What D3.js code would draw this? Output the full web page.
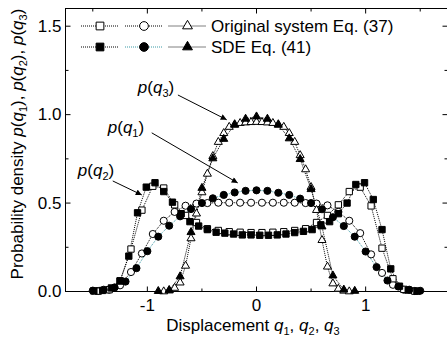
<!DOCTYPE html>
<html>
<head>
<meta charset="utf-8">
<script src="https://cdn.jsdelivr.net/npm/d3@7"></script>
<style>
html, body { margin: 0; padding: 0; background: #fff; }
svg { display: block; font-family: "Liberation Sans", Arial, Helvetica, sans-serif; }
</style>
</head>
<body>
<svg id="chart" width="447" height="342"></svg>
<script>
// ---- Probability densities: original system (open markers) ----
const q1OrigX = [-1.45,-1.35,-1.25,-1.15,-1.05,-0.95,-0.85,-0.75,-0.65,-0.55,-0.45,-0.35,-0.25,-0.15,-0.05,
                 0.05,0.15,0.25,0.35,0.45,0.55,0.65,0.75,0.85,0.95,1.05,1.15,1.25,1.35,1.45];
const q1OrigY = [0.003,0.010,0.035,0.110,0.215,0.325,0.400,0.450,0.485,0.497,0.500,0.502,0.502,0.502,0.502,
                 0.502,0.502,0.502,0.502,0.500,0.497,0.487,0.450,0.400,0.330,0.210,0.105,0.038,0.010,0.003];

const q2OrigX = [-1.45,-1.35,-1.25,-1.15,-1.05,-0.95,-0.85,-0.75,-0.65,-0.55,-0.45,-0.35,-0.25,-0.15,-0.05,
                 0.05,0.15,0.25,0.35,0.45,0.55,0.65,0.75,0.85,0.95,1.05,1.15,1.25,1.35,1.45];
const q2OrigY = [0.002,0.010,0.060,0.240,0.460,0.595,0.585,0.490,0.430,0.390,0.355,0.345,0.338,0.335,0.333,
                 0.333,0.335,0.338,0.345,0.355,0.390,0.430,0.490,0.565,0.590,0.484,0.245,0.072,0.012,0.002];

const q3OrigX = [-0.85,-0.80,-0.75,-0.70,-0.65,-0.60,-0.55,-0.50,-0.45,-0.40,-0.35,-0.30,-0.25,-0.20,-0.15,-0.10,-0.05,
                 0.00,0.05,0.10,0.15,0.20,0.25,0.30,0.35,0.40,0.45,0.50,0.55,0.60,0.65,0.70,0.75,0.80,0.85];
const q3OrigY = [0.000,0.005,0.020,0.050,0.145,0.300,0.440,0.560,0.665,0.765,0.845,0.895,0.930,0.945,0.952,0.955,0.957,
                 0.958,0.957,0.955,0.952,0.945,0.930,0.895,0.845,0.770,0.690,0.590,0.460,0.290,0.140,0.045,0.015,0.004,0.000];

// ---- Probability densities: SDE (filled markers) ----
const q1SdeX = [-1.5,-1.4,-1.3,-1.2,-1.1,-1.0,-0.9,-0.8,-0.7,-0.6,-0.5,-0.4,-0.3,-0.2,-0.1,0.0,
                0.1,0.2,0.3,0.4,0.5,0.6,0.7,0.8,0.9,1.0,1.1,1.2,1.3,1.4,1.5];
const q1SdeY = [0.005,0.010,0.023,0.056,0.132,0.228,0.310,0.372,0.425,0.466,0.500,0.527,0.546,0.560,0.569,0.572,
                0.569,0.558,0.546,0.525,0.500,0.465,0.420,0.370,0.310,0.226,0.138,0.062,0.028,0.010,0.004];

const q2SdeX = [-1.49,-1.41,-1.33,-1.25,-1.17,-1.09,-1.01,-0.93,-0.85,-0.77,-0.69,-0.61,-0.53,-0.45,-0.37,-0.29,-0.21,-0.13,-0.05,
                0.03,0.11,0.19,0.27,0.35,0.43,0.51,0.59,0.67,0.75,0.83,0.91,0.99,1.07,1.15,1.23,1.31,1.39,1.47];
const q2SdeY = [0.003,0.006,0.020,0.060,0.200,0.445,0.590,0.615,0.565,0.505,0.440,0.395,0.370,0.350,0.335,0.330,0.325,0.320,0.320,
                0.318,0.318,0.320,0.325,0.333,0.340,0.350,0.377,0.395,0.440,0.500,0.605,0.615,0.520,0.350,0.128,0.030,0.008,0.002];

const q3SdeX = [-0.9,-0.8,-0.7,-0.6,-0.5,-0.4,-0.3,-0.2,-0.1,0.0,0.1,0.2,0.3,0.4,0.5,0.6,0.7,0.8,0.9];
const q3SdeY = [0.002,0.008,0.085,0.335,0.585,0.752,0.862,0.942,0.976,0.989,0.976,0.942,0.865,0.748,0.578,0.367,0.090,0.010,0.003];

// ---- Axis ticks ----
const xTicksMajor = [-1, 0, 1];
const xTicksMinor = [-1.5, -0.5, 0.5, 1.5];
const yTicksMajor = [0.0, 0.5, 1.0, 1.5];
const yTicksMinor = [0.25, 0.75, 1.25];

// ---- Annotation labels (data units) ----
const annoNames = ["3", "1", "2"];
const annoTextX = [-1.087, -1.363, -1.637];
const annoTextY = [1.121, 0.897, 0.654];
const annoFromX = [-0.72, -0.96, -1.317];
const annoFromY = [1.111, 0.897, 0.625];
const annoToX = [-0.273, -0.172, -1.051];
const annoToY = [0.971, 0.614, 0.546];

const legendRows = ["Original system Eq. (37)", "SDE Eq. (41)"];

const svg = d3.select("#chart");
const x = d3.scaleLinear().domain([-1.75, 1.75]).range([65.5, 447.5]);
const y = d3.scaleLinear().domain([0, 1.6]).range([291.5, 8.5]);

const FONT = 17;
const SUB = 11;

// rich text helper: segments of {t, it, sub}
function rich(sel, segs) {
  let shifted = false;
  segs.forEach(s => {
    const ts = sel.append("tspan").text(s.t);
    if (s.it) ts.attr("font-style", "italic");
    if (s.sub) {
      ts.attr("font-size", SUB).attr("dy", shifted ? 0 : 4);
      shifted = true;
    } else if (shifted) {
      ts.attr("dy", -4);
      shifted = false;
    }
  });
}

// ---- Frame ----
svg.append("rect")
  .attr("x", x(-1.75)).attr("y", y(1.6))
  .attr("width", x(1.75) - x(-1.75)).attr("height", y(0) - y(1.6))
  .attr("fill", "none").attr("stroke", "#000").attr("stroke-width", 1);

function tickAxis(gen, pos, vals, len, labels) {
  const a = gen.tickValues(vals).tickSize(-len).tickSizeOuter(0).offset(0);
  if (!labels) a.tickFormat("");
  const g = svg.append("g").attr("transform", pos).call(a);
  g.select(".domain").remove();
  g.selectAll(".tick line").attr("stroke", "#000");
  g.selectAll("text").attr("font-size", FONT).attr("fill", "#000")
    .attr("font-family", "Liberation Sans, Arial, sans-serif");
  return g;
}

// integer labels with a plain hyphen for negatives
const intFmt = v => (v < 0 ? "-" : "") + Math.abs(v).toFixed(0);

// bottom
tickAxis(d3.axisBottom(x).tickPadding(7).tickFormat(intFmt), `translate(0,${y(0)})`, xTicksMajor, 5, true);
tickAxis(d3.axisBottom(x), `translate(0,${y(0)})`, xTicksMinor, 3, false);
// top
tickAxis(d3.axisTop(x), `translate(0,${y(1.6)})`, xTicksMajor, 5, false);
tickAxis(d3.axisTop(x), `translate(0,${y(1.6)})`, xTicksMinor, 3, false);
// left
tickAxis(d3.axisLeft(y).tickPadding(4).tickFormat(d3.format(".1f")), `translate(${x(-1.75)},0)`, yTicksMajor, 5, true);
tickAxis(d3.axisLeft(y), `translate(${x(-1.75)},0)`, yTicksMinor, 3, false);
// right
tickAxis(d3.axisRight(y), `translate(${x(1.75)},0)`, yTicksMajor, 5, false);
tickAxis(d3.axisRight(y), `translate(${x(1.75)},0)`, yTicksMinor, 3, false);

// ---- Axis titles ----
const xt = svg.append("text").attr("x", 253).attr("y", 331)
  .attr("text-anchor", "middle").attr("font-size", FONT);
rich(xt, [{t: "Displacement "}, {t: "q", it: 1}, {t: "1", sub: 1}, {t: ", "},
          {t: "q", it: 1}, {t: "2", sub: 1}, {t: ", "}, {t: "q", it: 1}, {t: "3", sub: 1}]);

const yt = svg.append("text").attr("transform", "translate(23,144) rotate(-90)")
  .attr("text-anchor", "middle").attr("font-size", FONT);
rich(yt, [{t: "Probability density "},
          {t: "p", it: 1}, {t: "("}, {t: "q", it: 1}, {t: "1", sub: 1}, {t: "), "},
          {t: "p", it: 1}, {t: "("}, {t: "q", it: 1}, {t: "2", sub: 1}, {t: "), "},
          {t: "p", it: 1}, {t: "("}, {t: "q", it: 1}, {t: "3", sub: 1}, {t: ")"}]);

// ---- Series ----
const TEAL = "#3a9aa6";
const series = [
  {xs: q1OrigX, ys: q1OrigY, shape: d3.symbolCircle, size: 40, filled: false, line: "#000"},
  {xs: q2OrigX, ys: q2OrigY, shape: d3.symbolSquare, size: 40, filled: false, line: "#000"},
  {xs: q3OrigX, ys: q3OrigY, shape: d3.symbolTriangle, size: 28, filled: false, line: "#000"},
  {xs: q1SdeX, ys: q1SdeY, shape: d3.symbolCircle, size: 40, filled: true, line: TEAL},
  {xs: q2SdeX, ys: q2SdeY, shape: d3.symbolSquare, size: 40, filled: true, line: "#000"},
  {xs: q3SdeX, ys: q3SdeY, shape: d3.symbolTriangle, size: 28, filled: true, line: "#000"}
];

const line = d3.line().x(d => x(d[0])).y(d => y(d[1]));
const plot = svg.append("g");

series.forEach(s => {
  const pts = s.xs.map((v, i) => [v, s.ys[i]]);
  plot.append("path").attr("d", line(pts)).attr("fill", "none")
    .attr("stroke", s.line).attr("stroke-width", 1).attr("stroke-dasharray", "1,1");
});

function drawMarker(g, s, cx, cy, size) {
  g.append("path")
    .attr("d", d3.symbol().type(s.shape).size(size)())
    .attr("transform", `translate(${cx},${cy})`)
    .attr("fill", s.filled ? "#000" : "#fff")
    .attr("stroke", "#000").attr("stroke-width", 1);
}

series.forEach(s => {
  s.xs.forEach((v, i) => drawMarker(plot, s, x(v), y(s.ys[i]), s.size));
});

// ---- Annotations ----
const defs = svg.append("defs");
defs.append("marker").attr("id", "arr").attr("viewBox", "0 0 10 10")
  .attr("refX", 10).attr("refY", 5).attr("markerWidth", 8).attr("markerHeight", 6)
  .attr("markerUnits", "userSpaceOnUse").attr("orient", "auto")
  .append("path").attr("d", "M0,0 L10,5 L0,10 z").attr("fill", "#000");

annoNames.forEach((n, i) => {
  svg.append("line")
    .attr("x1", x(annoFromX[i])).attr("y1", y(annoFromY[i]))
    .attr("x2", x(annoToX[i])).attr("y2", y(annoToY[i]))
    .attr("stroke", "#000").attr("stroke-width", 1).attr("marker-end", "url(#arr)");
  const t = svg.append("text").attr("x", x(annoTextX[i])).attr("y", y(annoTextY[i]))
    .attr("font-size", FONT);
  rich(t, [{t: "p", it: 1}, {t: "("}, {t: "q", it: 1}, {t: n, sub: 1}, {t: ")"}]);
});

// ---- Legend ----
const legY = [26, 47];
const legCx = [100, 144, 187.5];
legendRows.forEach((label, r) => {
  for (let k = 0; k < 3; k++) {
    const s = series[r * 3 + [1, 0, 2][k]];
    svg.append("line")
      .attr("x1", legCx[k] - 19).attr("x2", legCx[k] + 19)
      .attr("y1", legY[r]).attr("y2", legY[r])
      .attr("stroke", s.line).attr("stroke-width", 1).attr("stroke-dasharray", "1,1");
    drawMarker(svg, s, legCx[k], legY[r], s.size * 1.5);
  }
  svg.append("text").attr("x", 211).attr("y", legY[r] + 6)
    .attr("font-size", FONT).text(label);
});
</script>
</body>
</html>
